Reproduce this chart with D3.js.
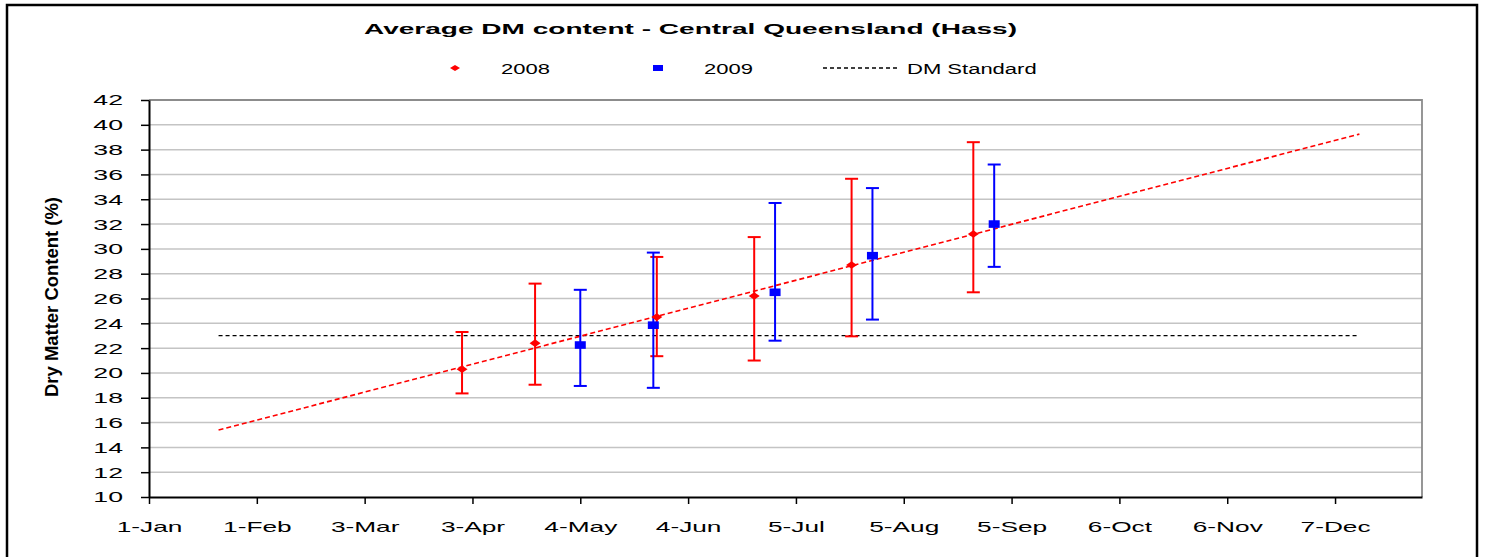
<!DOCTYPE html>
<html>
<head>
<meta charset="utf-8">
<script src="https://cdn.jsdelivr.net/npm/d3@7"></script>
<style>
  body { margin: 0; background: #fff; }
  text { font-family: "Liberation Sans", Arial, sans-serif; fill: #000; }
</style>
</head>
<body>
<script>
// Average DM content chart, Central Queensland (Hass)
// dates are month-day, both seasons drawn on the same calendar axis

const dates2008 = ["03-31", "04-21", "05-26", "06-23", "07-21", "08-25"];
const dm2008 = [20.3, 22.4, 24.5, 26.2, 28.7, 31.2];
const hi2008 = [23.3, 27.2, 29.35, 30.95, 35.65, 38.6];
const lo2008 = [18.35, 19.05, 21.35, 21.0, 22.95, 26.5];

const dates2009 = ["05-04", "05-25", "06-29", "07-27", "08-31"];
const dm2009 = [22.25, 23.85, 26.5, 29.45, 32.0];
const hi2009 = [26.7, 29.7, 33.7, 34.9, 36.8];
const lo2009 = [18.95, 18.8, 22.6, 24.3, 28.55];

// 2008 trend line and DM standard (end points)
const trendDates = ["01-21", "12-14"];
const trendValues = [15.4, 39.25];
const stdDates = ["01-21", "12-14"];
const stdValues = [23, 23];

const xTickDates = ["01-01", "02-01", "03-03", "04-03", "05-04", "06-04",
  "07-05", "08-05", "09-05", "10-06", "11-06", "12-07"];
const yTicks = [10, 12, 14, 16, 18, 20, 22, 24, 26, 28, 30, 32, 34, 36, 38, 40, 42];

const W = 1489, H = 557;
const parse = s => d3.timeParse("%Y-%m-%d")("2008-" + s);
const fmt = d3.timeFormat("%-d-%b");

const x = d3.scaleTime()
  .domain([new Date(2008, 0, 1), new Date(2009, 0, 1)])
  .range([149, 1422]);
const y = d3.scaleLinear().domain([10, 42]).range([497, 100]);

const svg = d3.select("body").append("svg")
  .attr("width", W).attr("height", H);

// text in the source is drawn wide, so stretch it horizontally
function stretch(sel, k) {
  sel.each(function() {
    const w = this.getComputedTextLength();
    d3.select(this).attr("textLength", w * k).attr("lengthAdjust", "spacingAndGlyphs");
  });
}

// outer frame
svg.append("rect")
  .attr("x", 7).attr("y", 5).attr("width", 1470).attr("height", 580)
  .attr("fill", "none").attr("stroke", "#000").attr("stroke-width", 2.5);

// gridlines
svg.append("g").selectAll("line")
  .data(yTicks.slice(1, -1))
  .join("line")
  .attr("x1", 149).attr("x2", 1422)
  .attr("y1", d => y(d)).attr("y2", d => y(d))
  .attr("stroke", "#c4c4c4").attr("stroke-width", 1.5);

// plot area border (top and right)
svg.append("path")
  .attr("d", `M149,${y(42)}H1422V${y(10)}`)
  .attr("fill", "none").attr("stroke", "#8c8c8c").attr("stroke-width", 1.8);

// axes
const gx = svg.append("g")
  .attr("transform", `translate(0,${y(10)})`)
  .call(d3.axisBottom(x).tickValues(xTickDates.map(parse)).tickFormat(fmt)
    .tickSize(7).tickPadding(17).tickSizeOuter(0));
gx.select(".domain").attr("stroke-width", 2);
gx.selectAll(".tick line").attr("stroke-width", 1.5);
gx.selectAll("text").attr("font-size", 15).attr("font-family", "Liberation Sans, Arial")
  .call(stretch, 1.75);

const gy = svg.append("g")
  .attr("transform", "translate(149,0)")
  .call(d3.axisLeft(y).tickValues(yTicks).tickSize(8).tickPadding(18).tickSizeOuter(0));
gy.select(".domain").attr("stroke-width", 2);
gy.selectAll(".tick line").attr("stroke-width", 1.5);
gy.selectAll("text").attr("font-size", 15.5).attr("font-family", "Liberation Sans, Arial")
  .call(stretch, 1.72);

// DM standard
const line = d3.line().x(d => x(parse(d[0]))).y(d => y(d[1]));
svg.append("path")
  .attr("d", line(d3.zip(stdDates, stdValues)))
  .attr("fill", "none").attr("stroke", "#000").attr("stroke-width", 1.3)
  .attr("stroke-dasharray", "4,3");

// 2008 trend
svg.append("path")
  .attr("d", line(d3.zip(trendDates, trendValues)))
  .attr("fill", "none").attr("stroke", "#ff0000").attr("stroke-width", 1.6)
  .attr("stroke-dasharray", "5,3");

function errorBars(dates, lo, hi, color) {
  const g = svg.append("g").attr("stroke", color).attr("stroke-width", 2);
  dates.forEach((d, i) => {
    const cx = x(parse(d));
    g.append("line").attr("x1", cx).attr("x2", cx).attr("y1", y(lo[i])).attr("y2", y(hi[i]));
    g.append("line").attr("x1", cx - 6.5).attr("x2", cx + 6.5).attr("y1", y(lo[i])).attr("y2", y(lo[i]));
    g.append("line").attr("x1", cx - 6.5).attr("x2", cx + 6.5).attr("y1", y(hi[i])).attr("y2", y(hi[i]));
  });
}
errorBars(dates2008, lo2008, hi2008, "#ff0000");
errorBars(dates2009, lo2009, hi2009, "#0000ff");

const diamond = "M-5.5,0L0,-3.8L5.5,0L0,3.8Z";
svg.append("g").selectAll("path")
  .data(d3.zip(dates2008, dm2008))
  .join("path")
  .attr("transform", d => `translate(${x(parse(d[0]))},${y(d[1])})`)
  .attr("d", diamond).attr("fill", "#ff0000");

svg.append("g").selectAll("rect")
  .data(d3.zip(dates2009, dm2009))
  .join("rect")
  .attr("x", d => x(parse(d[0])) - 5.5).attr("y", d => y(d[1]) - 3.8)
  .attr("width", 11).attr("height", 7.6).attr("fill", "#0000ff");

// title
svg.append("text")
  .attr("x", 690.5).attr("y", 34).attr("text-anchor", "middle")
  .attr("font-size", 15.5).attr("font-weight", "bold")
  .attr("textLength", 653).attr("lengthAdjust", "spacingAndGlyphs")
  .text("Average DM content - Central Queensland (Hass)");

// y axis title
svg.append("text")
  .attr("transform", "translate(58,297) rotate(-90)")
  .attr("text-anchor", "middle").attr("font-size", 19).attr("font-weight", "bold")
  .attr("textLength", 200).attr("lengthAdjust", "spacingAndGlyphs")
  .text("Dry Matter Content (%)");

// legend
const lg = svg.append("g");
lg.append("path").attr("transform", "translate(455,68)").attr("d", "M-5,0L0,-3L5,0L0,3Z").attr("fill", "#ff0000");
lg.append("text").attr("x", 501).attr("y", 74).attr("font-size", 15.5).text("2008");
lg.append("rect").attr("x", 653).attr("y", 65).attr("width", 10).attr("height", 6).attr("fill", "#0000ff");
lg.append("text").attr("x", 704).attr("y", 74).attr("font-size", 15.5).text("2009");
lg.append("line").attr("x1", 823).attr("x2", 897).attr("y1", 68).attr("y2", 68)
  .attr("stroke", "#000").attr("stroke-width", 1.3).attr("stroke-dasharray", "4,3");
lg.append("text").attr("x", 907).attr("y", 74).attr("font-size", 15.5).text("DM Standard");
lg.selectAll("text").call(stretch, 1.42);
</script>
</body>
</html>
